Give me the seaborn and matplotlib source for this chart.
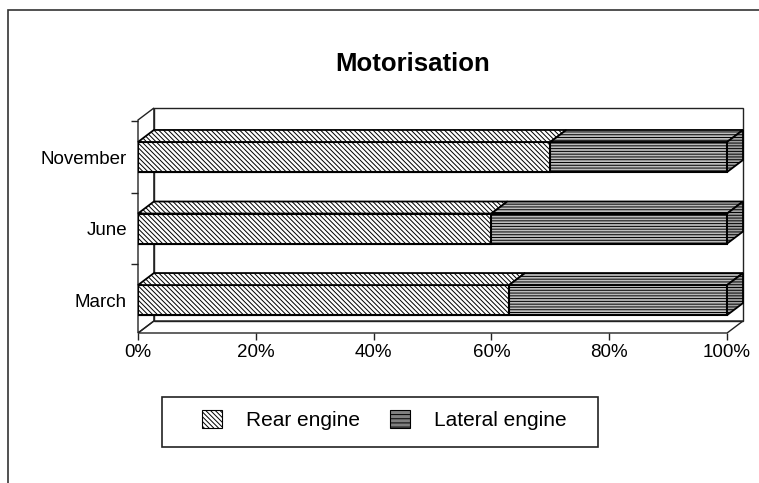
import matplotlib
matplotlib.use("Agg")
import matplotlib.pyplot as plt
from matplotlib.patches import Polygon, Rectangle
import pandas as pd
import seaborn as sns

months = ["November", "June", "March"]
rear_engine = [70, 60, 63]
lateral_engine = [30, 40, 37]
x_ticks = [0, 20, 40, 60, 80, 100]
x_labels = ["0%", "20%", "40%", "60%", "80%", "100%"]

df = pd.DataFrame({"month": months, "rear": rear_engine, "lateral": lateral_engine})
df["total"] = df["rear"] + df["lateral"]

sns.set_theme(style="white")
plt.rcParams["font.family"] = ["Liberation Sans", "DejaVu Sans"]
plt.rcParams["hatch.linewidth"] = 0.7
plt.rcParams["text.color"] = "black"
plt.rcParams["xtick.color"] = "black"
plt.rcParams["ytick.color"] = "black"

REAR_HATCH = "\\" * 7
LAT_HATCH = "------"
LAT_FACE = "#bdbdbd"
bar_h = 0.42
# fake 3D depth, in data units
dx, dy = 2.7, 0.168

fig = plt.figure(figsize=(7.59, 4.83), dpi=100)
ax = fig.add_axes([138 / 759, 1 - 333 / 483, 605 / 759, 225 / 483])

ybot, ytop = 2.46, -0.685

# walls and floor
wall_kw = dict(closed=True, fill=False, edgecolor="#222222", lw=1.0, clip_on=False, zorder=0)
ax.add_patch(Polygon([(dx, ybot - dy), (100 + dx, ybot - dy), (100 + dx, ytop), (dx, ytop)], **wall_kw))
ax.add_patch(Polygon([(0, ybot), (0, ytop + dy), (dx, ytop), (dx, ybot - dy)], **wall_kw))
ax.add_patch(Polygon([(0, ybot), (100, ybot), (100 + dx, ybot - dy), (dx, ybot - dy)], **wall_kw))

# front faces
sns.barplot(data=df, x="total", y="month", order=months, orient="h", color=LAT_FACE,
            saturation=1, width=bar_h, errorbar=None, hatch=LAT_HATCH,
            edgecolor="black", linewidth=1.5, ax=ax)
sns.barplot(data=df, x="rear", y="month", order=months, orient="h", color="white",
            saturation=1, width=bar_h, errorbar=None, hatch=REAR_HATCH,
            edgecolor="black", linewidth=1.5, ax=ax)

# top and end faces
for i, (r, t) in enumerate(zip(df["rear"], df["total"])):
    yt = i - bar_h / 2
    yb = i + bar_h / 2
    for x0, x1, fc, hatch in [(0, r, "white", REAR_HATCH), (r, t, LAT_FACE, LAT_HATCH)]:
        ax.add_patch(Polygon([(x0, yt), (x1, yt), (x1 + dx, yt - dy), (x0 + dx, yt - dy)],
                             closed=True, facecolor=fc, hatch=hatch, edgecolor="black",
                             lw=1.3, clip_on=False, zorder=3))
    ax.add_patch(Polygon([(t, yb), (t, yt), (t + dx, yt - dy), (t + dx, yb - dy)],
                         closed=True, facecolor="#a0a0a0", hatch=LAT_HATCH, edgecolor="black",
                         lw=1.3, clip_on=False, zorder=3))

ax.set_xlim(0, 100 + dx)
ax.set_ylim(ybot, ytop)
ax.set_xticks(x_ticks)
ax.set_xticklabels(x_labels, fontsize=13.5)
ax.set_yticks(range(len(months)))
ax.set_yticklabels(months, fontsize=13.5)
ax.set_yticks([-0.5, 0.5, 1.5], minor=True)
ax.tick_params(axis="y", which="major", length=0, pad=8)
ax.tick_params(axis="y", which="minor", left=True, length=5, width=1, color="#222222", direction="out")
ax.tick_params(axis="x", bottom=True, length=5, width=1, color="#222222", direction="out", pad=3)
ax.set_xlabel("")
ax.set_ylabel("")
ax.set_facecolor("none")
for s in ax.spines.values():
    s.set_visible(False)

fig.text(413 / 759, 1 - 64 / 483, "Motorisation", ha="center", va="center",
         fontsize=18.5, fontweight="bold")

# outer frame (cut off on the right and bottom)
fig.patches.append(Rectangle((8 / 759, -0.1), 1.2, 1.1 - 10 / 483, transform=fig.transFigure,
                             fill=False, edgecolor="#333333", lw=1.2))
# legend box
fig.patches.append(Rectangle((162 / 759, 1 - 447 / 483), 436 / 759, 50 / 483,
                             transform=fig.transFigure, facecolor="white",
                             edgecolor="#222222", lw=1.2))
handles = [Rectangle((0, 0), 1, 1, facecolor="white", hatch=REAR_HATCH, edgecolor="black", lw=0.8),
           Rectangle((0, 0), 1, 1, facecolor="#808080", hatch="----", edgecolor="black", lw=0.8)]
fig.legend(handles, ["Rear engine", "Lateral engine"], loc="center",
           bbox_to_anchor=(384 / 759, 1 - 420 / 483), ncol=2, frameon=False,
           fontsize=15, handlelength=0.96, handleheight=0.96,
           handletextpad=1.15, columnspacing=1.44)

fig.savefig("out.png", dpi=100)
